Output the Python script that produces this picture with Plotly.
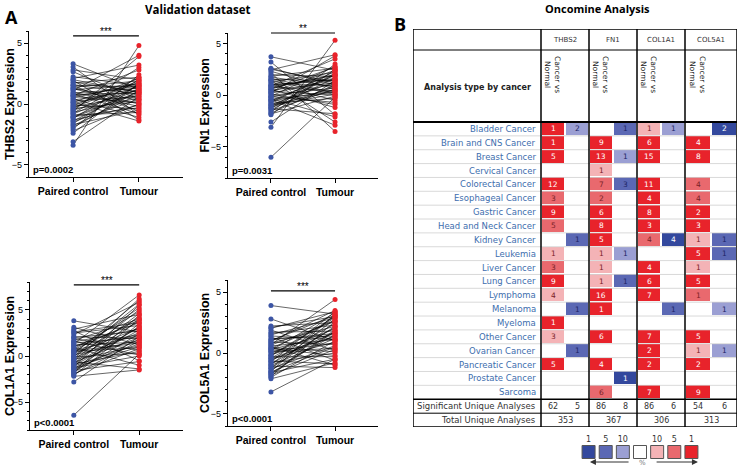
import plotly.graph_objects as go

W, H = 738, 466

# ---------------- Panel A : paired expression ----------------
groups = ["Paired control", "Tumour"]

thbs2_control = [3.3, 3.05, 2.8, 2.65, 2.25, 2.1, 1.95, 1.8, 1.72, 1.58, 1.5, 1.38, 1.3, 1.17, 1.1,
                 0.98, 0.9, 0.77, 0.7, 0.62, 0.5, 0.43, 0.33, 0.24, 0.12, 0.02, -0.08, -0.22, -0.3,
                 -0.38, -0.52, -0.6, -0.68, -0.83, -0.9, -1.02, -1.1, -1.18, -1.32, -1.4, -1.47, -1.6,
                 -1.7, -1.78, -1.92, -2.05, -2.2, -2.4, -3.1, -3.4, 0.15, 1.25, -0.45, 0.65, -1.05,
                 2.0, -0.15, 0.85, -0.75, 1.55]
thbs2_tumour = [1.2, -0.9, 2.0, 0.4, 1.5, 3.2, -1.3, 1.0, 2.2, 0.8, -0.6, 1.9, 0.3, 1.6, 4.0, -0.2,
                1.3, 0.9, 2.8, 0.1, 1.7, -1.1, 1.1, 0.6, 2.1, 1.4, -0.4, 0.7, 1.8, 0.2, 1.2, 3.9, 0.5,
                1.5, -0.7, 1.0, 0.9, 2.0, -0.1, 1.3, 0.4, 1.6, -0.5, 0.8, 1.1, 2.4, 0.0, 1.7, 0.6, 4.8,
                -1.4, 0.0, 3.0, 1.5, -0.3, 0.95, 1.9, -0.8, 2.2, 1.4]

fn1_control = [3.7, 3.2, 2.6, 2.45, 2.3, 2.15, 1.98, 1.82, 1.63, 1.52, 1.41, 1.28, 1.19, 1.07, 0.96,
               0.88, 0.79, 0.68, 0.57, 0.49, 0.38, 0.31, 0.18, 0.09, -0.03, -0.12, -0.21, -0.33, -0.41,
               -0.52, -0.58, -0.71, -0.79, -0.92, -1.01, -1.12, -1.19, -1.31, -1.42, -1.5, -1.63,
               -1.72, -1.81, -1.9, -2.6, -3.1, -6.0, 1.75, 0.55, -0.45, 0.95, -0.95, 2.5, 0.25, -1.25,
               1.45, -0.15, 0.75]
fn1_tumour = [2.4, -1.9, 1.0, 3.9, 0.6, -3.5, 1.8, 2.6, 0.2, 1.4, -2.6, 2.2, 0.9, -0.5, 1.6, 3.5, 0.4,
              2.0, -1.2, 1.2, 0.0, 2.4, 1.5, -0.9, 0.7, 2.8, 1.1, -2.1, 0.3, 1.9, 0.5, 2.3, -0.3, 1.3,
              0.1, 2.1, 0.8, -1.8, 1.7, 0.6, 3.0, 1.0, -0.1, 2.5, 1.4, 5.3, -0.2, 0.8, 2.7, -2.9, 1.5,
              0.4, 1.2, 3.8, 2.0, 0.05, -0.7, 1.9]

col1a1_control = [3.8, 3.1, 2.9, 2.72, 2.48, 2.31, 2.08, 1.91, 1.69, 1.52, 1.33, 1.18, 1.02, 0.91,
                  0.78, 0.63, 0.49, 0.41, 0.27, 0.12, -0.02, -0.11, -0.19, -0.32, -0.39, -0.51, -0.62,
                  -0.69, -0.81, -0.88, -1.03, -1.09, -1.21, -1.29, -1.41, -1.52, -1.58, -1.71, -1.79,
                  -1.91, -1.98, -2.12, -2.2, -2.8, -6.4, 0.7, 1.6, -0.45, 2.0, -1.25, 0.25, -0.85, 1.1,
                  -1.65, 0.55, 2.6, -0.05, 1.4]
col1a1_tumour = [2.6, 1.2, 4.5, -0.5, 3.3, 5.8, 1.9, 0.6, 4.0, 2.9, 6.6, 1.5, 3.6, -1.0, 4.8, 2.2, 0.9,
                 5.2, 3.0, 1.7, 4.2, 0.3, 2.5, 6.2, 1.1, 3.8, -1.4, 2.0, 4.6, 0.5, 2.8, 1.3, 5.5, 0.0,
                 3.2, 1.8, -0.6, 2.4, 4.0, 0.8, 1.6, 3.5, -1.5, 2.1, 0.2, 3.9, 0.1, 5.0, 2.7, 1.0, 6.0,
                 3.1, 2.3, 4.4, 1.4, 3.6, 5.6, 2.0]

col5a1_control = [3.9, 2.8, 2.22, 2.03, 1.88, 1.71, 1.49, 1.32, 1.18, 1.02, 0.89, 0.81, 0.69, 0.58,
                  0.51, 0.38, 0.29, 0.21, 0.08, -0.01, -0.12, -0.19, -0.31, -0.42, -0.49, -0.61, -0.72,
                  -0.79, -0.91, -1.02, -1.08, -1.22, -1.29, -1.41, -1.52, -1.61, -1.69, -1.82, -1.93,
                  -2.0, -2.12, -3.2, 1.6, 0.45, -0.25, 1.1, -0.65, 2.1, -1.25, 0.15, -0.95, 0.65, -1.55,
                  1.4, -0.45, 0.95, -1.75, 0.35]
col5a1_tumour = [3.2, 1.0, 2.5, 3.4, 0.2, 1.8, 2.9, -0.6, 1.4, 3.1, 0.7, 2.2, 4.4, 1.1, -1.0, 2.7, 1.6,
                 3.3, 0.4, 2.0, 1.3, 3.0, -0.3, 2.4, 0.9, 1.7, 3.4, 0.0, 2.1, 1.2, -1.2, 2.8, 0.6, 1.5,
                 3.2, -0.5, 1.9, 0.3, 2.6, 1.0, -0.8, -0.5, 2.3, 0.1, 2.9, 1.6, -0.9, 3.0, 2.2, 0.8, 3.1,
                 2.6, 0.5, 1.1, 1.4, 3.5, 1.8, -0.2]

p_labels = ["p=0.0002", "p=0.0031", "p<0.0001", "p<0.0001"]
star_labels = ["***", "**", "***", "***"]

# ---------------- Panel B : Oncomine table ----------------
cancers = ["Bladder Cancer", "Brain and CNS Cancer", "Breast Cancer", "Cervical Cancer",
           "Colorectal Cancer", "Esophageal Cancer", "Gastric Cancer", "Head and Neck Cancer",
           "Kidney Cancer", "Leukemia", "Liver Cancer", "Lung Cancer", "Lymphoma", "Melanoma",
           "Myeloma", "Other Cancer", "Ovarian Cancer", "Pancreatic Cancer", "Prostate Cancer",
           "Sarcoma"]
genes = ["THBS2", "FN1", "COL1A1", "COL5A1"]

# counts of analyses (0 = empty) and gene rank (top 1/5/10 %)
thbs2_up = [1, 1, 5, 0, 12, 3, 9, 5, 0, 1, 3, 9, 4, 0, 1, 3, 0, 5, 0, 0]
thbs2_up_rank = [1, 1, 1, 0, 1, 5, 1, 5, 0, 10, 5, 1, 10, 0, 1, 10, 0, 1, 0, 0]
thbs2_down = [2, 0, 0, 0, 0, 0, 0, 0, 1, 0, 0, 0, 0, 1, 0, 0, 1, 0, 0, 0]
thbs2_down_rank = [10, 0, 0, 0, 0, 0, 0, 0, 5, 0, 0, 0, 0, 5, 0, 0, 5, 0, 0, 0]
fn1_up = [0, 9, 13, 1, 7, 2, 6, 8, 5, 1, 1, 1, 16, 1, 0, 6, 0, 4, 0, 6]
fn1_up_rank = [0, 1, 1, 10, 5, 5, 1, 1, 1, 10, 10, 10, 1, 1, 0, 1, 0, 1, 0, 5]
fn1_down = [1, 0, 1, 0, 3, 0, 0, 0, 0, 1, 0, 1, 0, 0, 0, 0, 0, 0, 1, 0]
fn1_down_rank = [5, 0, 10, 0, 5, 0, 0, 0, 0, 10, 0, 5, 0, 0, 0, 0, 0, 0, 1, 0]
col1a1_up = [1, 6, 15, 0, 11, 4, 8, 3, 4, 0, 4, 6, 7, 0, 0, 7, 2, 2, 0, 7]
col1a1_up_rank = [10, 1, 1, 0, 1, 1, 1, 1, 5, 0, 1, 1, 1, 0, 0, 1, 1, 1, 0, 1]
col1a1_down = [1, 0, 0, 0, 0, 0, 0, 0, 4, 0, 0, 0, 0, 1, 0, 0, 0, 0, 0, 0]
col1a1_down_rank = [10, 0, 0, 0, 0, 0, 0, 0, 1, 0, 0, 0, 0, 5, 0, 0, 0, 0, 0, 0]
col5a1_up = [0, 4, 8, 0, 4, 4, 2, 3, 1, 5, 1, 5, 1, 0, 0, 5, 1, 2, 0, 9]
col5a1_up_rank = [0, 1, 1, 0, 5, 5, 1, 1, 10, 1, 10, 1, 5, 0, 0, 1, 10, 1, 0, 1]
col5a1_down = [2, 0, 0, 0, 0, 0, 0, 0, 1, 1, 0, 0, 0, 1, 0, 0, 1, 0, 0, 0]
col5a1_down_rank = [1, 0, 0, 0, 0, 0, 0, 0, 5, 5, 0, 0, 0, 10, 0, 0, 10, 0, 0, 0]

significant = [62, 5, 86, 8, 86, 6, 54, 6]
total_unique = [353, 367, 306, 313]
legend_ranks = ["1", "5", "10", "", "10", "5", "1"]

BLUE = "#3c55a5"
RED = "#e8232b"
LABEL_FONT = "Liberation Sans, Arial, sans-serif"
TABLE_FONT = "DejaVu Sans, Verdana, sans-serif"


def px(x):
    return x / W


def py(y):
    return 1 - y / H


fig = go.Figure()
annotations = []
shapes = []

# ---- paired dot plots ----
panels = [
    dict(gene="THBS2", control=thbs2_control, tumour=thbs2_tumour, dom_x=(29, 183), dom_y=(31, 177),
         yrange=[-6, 6], bar=0.966, title_x=10),
    dict(gene="FN1", control=fn1_control, tumour=fn1_tumour, dom_x=(228, 378), dom_y=(33, 178),
         yrange=[-8, 6], bar=1.0, title_x=205),
    dict(gene="COL1A1", control=col1a1_control, tumour=col1a1_tumour, dom_x=(30, 183), dom_y=(282, 430),
         yrange=[-8, 8], bar=0.98, title_x=10),
    dict(gene="COL5A1", control=col5a1_control, tumour=col5a1_tumour, dom_x=(228, 378), dom_y=(280, 426),
         yrange=[-6, 6], bar=0.925, title_x=205),
]

for i, pnl in enumerate(panels, start=1):
    sx = "" if i == 1 else str(i)
    xa, ya = "x" + sx, "y" + sx

    lx, ly = [], []
    for c, t in zip(pnl["control"], pnl["tumour"]):
        lx += [0, 1, None]
        ly += [c, t, None]
    fig.add_trace(go.Scatter(x=lx, y=ly, mode="lines", line=dict(color="black", width=0.6),
                             xaxis=xa, yaxis=ya, hoverinfo="skip"))
    fig.add_trace(go.Scatter(x=[0] * len(pnl["control"]), y=pnl["control"], mode="markers",
                             marker=dict(color=BLUE, size=5), xaxis=xa, yaxis=ya, cliponaxis=False))
    fig.add_trace(go.Scatter(x=[1] * len(pnl["tumour"]), y=pnl["tumour"], mode="markers",
                             marker=dict(color=RED, size=5), xaxis=xa, yaxis=ya, cliponaxis=False))

    fig.update_layout(**{
        "xaxis" + sx: dict(domain=[px(pnl["dom_x"][0]), px(pnl["dom_x"][1])], anchor=ya,
                           range=[-0.67, 1.67], tickvals=[0, 1], ticktext=groups,
                           showline=True, linecolor="black", linewidth=1.2, ticks="outside",
                           ticklen=4, tickcolor="black", showgrid=False, zeroline=False,
                           tickfont=dict(family=LABEL_FONT, size=10.5, color="black", weight="bold")),
        "yaxis" + sx: dict(domain=[py(pnl["dom_y"][1]), py(pnl["dom_y"][0])], anchor=xa,
                           range=pnl["yrange"], dtick=5, showline=True, linecolor="black",
                           linewidth=1.2, ticks="outside", ticklen=4, tickcolor="black",
                           showgrid=False, zeroline=False,
                           minor=dict(dtick=1, ticks="outside", ticklen=2, tickcolor="black"),
                           tickfont=dict(family=LABEL_FONT, size=9, color="black")),
    })

    annotations.append(dict(x=px(pnl["title_x"]), y=(py(pnl["dom_y"][0]) + py(pnl["dom_y"][1])) / 2,
                            xref="paper", yref="paper", xanchor="center", yanchor="middle",
                            text=f"{pnl['gene']} Expression", textangle=-90, showarrow=False,
                            font=dict(family=LABEL_FONT, size=12.5, color="black", weight="bold")))
    annotations.append(dict(x=0.015, y=0.0, xref=xa + " domain", yref=ya + " domain",
                            xanchor="left", yanchor="bottom", text=p_labels[i - 1], showarrow=False,
                            font=dict(family=LABEL_FONT, size=9.5, color="black", weight="bold")))
    shapes.append(dict(type="line", xref=xa, yref=ya + " domain", x0=0, x1=1,
                       y0=pnl["bar"], y1=pnl["bar"], line=dict(color="black", width=1.2)))
    annotations.append(dict(x=0.5, y=pnl["bar"], xref=xa, yref=ya + " domain", yanchor="bottom",
                            yshift=-3, text=star_labels[i - 1], showarrow=False,
                            font=dict(family=LABEL_FONT, size=10, color="black")))

# ---- Oncomine table (axis units = pixels inside the table) ----
col_edges = [128, 152, 176, 200, 224, 248, 272, 298, 324]
HEAD1, HEAD2, ROW_H = 21, 93, 13.86
row_edges = [HEAD2 + k * ROW_H for k in range(len(cancers) + 1)]
data_bottom = row_edges[-1]
sig_bottom = data_bottom + 14
table_bottom = 398

columns = [
    (thbs2_up, thbs2_up_rank, 1), (thbs2_down, thbs2_down_rank, -1),
    (fn1_up, fn1_up_rank, 1), (fn1_down, fn1_down_rank, -1),
    (col1a1_up, col1a1_up_rank, 1), (col1a1_down, col1a1_down_rank, -1),
    (col5a1_up, col5a1_up_rank, 1), (col5a1_down, col5a1_down_rank, -1),
]
rank_level = {1: 3, 5: 2, 10: 1}
shade_colors = ["#33489d", "#5b68b4", "#9b9fd3", "#ffffff", "#f4b3b6", "#e9696e", RED]
colorscale = []
for k, c in enumerate(shade_colors):
    colorscale += [[k / 7, c], [(k + 1) / 7, c]]

z = []
for r in range(len(cancers)):
    row = []
    for counts, ranks, sign in columns:
        row.append(sign * rank_level[ranks[r]] if counts[r] else None)
    z.append(row)

fig.add_trace(go.Heatmap(x=col_edges, y=row_edges, z=z, colorscale=colorscale, zmin=-3.5, zmax=3.5,
                         showscale=False, xgap=2, ygap=1, xaxis="x5", yaxis="y5", hoverinfo="skip"))

fig.update_layout(
    xaxis5=dict(domain=[px(413), px(737)], range=[0, 324], anchor="y5", visible=False),
    yaxis5=dict(domain=[py(427), py(29)], range=[table_bottom, 0], anchor="x5", visible=False),
)

col_centres = [(col_edges[k] + col_edges[k + 1]) / 2 for k in range(8)]
row_centres = [(row_edges[k] + row_edges[k + 1]) / 2 for k in range(len(cancers))]

for r, name in enumerate(cancers):
    annotations.append(dict(x=125, y=row_centres[r], xref="x5", yref="y5", xanchor="right",
                            text=name, showarrow=False,
                            font=dict(family=TABLE_FONT, size=8.5, color="#3d6eae")))
    for k, (counts, ranks, sign) in enumerate(columns):
        if not counts[r]:
            continue
        if ranks[r] == 1:
            tc = "white"
        elif sign > 0:
            tc = "#7a2226"
        else:
            tc = "#1c2466"
        annotations.append(dict(x=col_centres[k], y=row_centres[r], xref="x5", yref="y5",
                                text=str(counts[r]), showarrow=False,
                                font=dict(family=TABLE_FONT, size=7.5, color=tc)))

for g, gene in enumerate(genes):
    gx0, gx1 = col_edges[2 * g], col_edges[2 * g + 2]
    annotations.append(dict(x=(gx0 + gx1) / 2, y=HEAD1 / 2, xref="x5", yref="y5", text=gene,
                            showarrow=False, font=dict(family=TABLE_FONT, size=7, color="#333")))
    annotations.append(dict(x=col_centres[2 * g], y=45, xref="x5", yref="y5",
                            text="Cancer vs<br>Normal", textangle=90, showarrow=False,
                            font=dict(family=TABLE_FONT, size=7.5, color="#222")))
    annotations.append(dict(x=(gx0 + gx1) / 2, y=(sig_bottom + table_bottom) / 2, xref="x5", yref="y5",
                            text=str(total_unique[g]), showarrow=False,
                            font=dict(family=TABLE_FONT, size=8, color="#333")))

for k, v in enumerate(significant):
    annotations.append(dict(x=col_centres[k], y=(data_bottom + sig_bottom) / 2, xref="x5", yref="y5",
                            text=str(v), showarrow=False,
                            font=dict(family=TABLE_FONT, size=8, color="#333")))

annotations.append(dict(x=64, y=58, xref="x5", yref="y5", text="Analysis type by cancer",
                        showarrow=False, font=dict(family=TABLE_FONT, size=8, color="#222",
                                                   weight="bold")))
annotations.append(dict(x=125, y=(data_bottom + sig_bottom) / 2, xref="x5", yref="y5", xanchor="right",
                        text="Significant Unique Analyses", showarrow=False,
                        font=dict(family=TABLE_FONT, size=8.5, color="#333")))
annotations.append(dict(x=125, y=(sig_bottom + table_bottom) / 2, xref="x5", yref="y5", xanchor="right",
                        text="Total Unique Analyses", showarrow=False,
                        font=dict(family=TABLE_FONT, size=8.5, color="#333")))

# table rules
for y in row_edges[1:-1]:
    shapes.append(dict(type="line", xref="x5", yref="y5", x0=0, x1=324, y0=y, y1=y,
                       line=dict(color="#cfcfcf", width=0.8)))
for y, w in [(HEAD1, 1), (HEAD2, 2), (data_bottom, 1.5), (sig_bottom, 1)]:
    shapes.append(dict(type="line", xref="x5", yref="y5", x0=0, x1=324, y0=y, y1=y,
                       line=dict(color="black", width=w)))
for x in [128, 176, 224, 272]:
    shapes.append(dict(type="line", xref="x5", yref="y5", x0=x, x1=x, y0=0, y1=table_bottom,
                       line=dict(color="black", width=1.5)))
shapes.append(dict(type="rect", xref="x5", yref="y5", x0=0, x1=324, y0=0, y1=table_bottom,
                   line=dict(color="black", width=1.5)))

# ---- colour key ----
fig.add_trace(go.Scatter(x=list(range(7)), y=[14] * 7, mode="markers", xaxis="x6", yaxis="y6",
                         marker=dict(symbol="square", size=13, color=shade_colors,
                                     line=dict(color="#555", width=1)), hoverinfo="skip"))
fig.add_trace(go.Scatter(x=list(range(7)), y=[26] * 7, mode="text", text=legend_ranks,
                         xaxis="x6", yaxis="y6", hoverinfo="skip",
                         textfont=dict(family=TABLE_FONT, size=8, color="#333")))
fig.update_layout(
    xaxis6=dict(domain=[px(580), px(700)], range=[-0.5, 6.5], anchor="y6", visible=False),
    yaxis6=dict(domain=[0, py(434)], range=[0, 32], anchor="x6", visible=False),
)
annotations.append(dict(x=0.08, y=4, ax=2.42, ay=4, xref="x6", yref="y6", axref="x6", ayref="y6",
                        text="", showarrow=True, arrowhead=2, arrowsize=1, arrowwidth=1.2,
                        arrowcolor="#333"))
annotations.append(dict(x=6.38, y=4, ax=3.88, ay=4, xref="x6", yref="y6", axref="x6", ayref="y6",
                        text="", showarrow=True, arrowhead=2, arrowsize=1, arrowwidth=1.2,
                        arrowcolor="#333"))
annotations.append(dict(x=3.15, y=3, xref="x6", yref="y6", text="%", showarrow=False,
                        font=dict(family=TABLE_FONT, size=7, color="#777")))

# ---- panel titles ----
annotations += [
    dict(x=px(3), y=py(3), xref="paper", yref="paper", xanchor="left", yanchor="top", text="A",
         showarrow=False, font=dict(family="Open Sans, sans-serif", size=18, color="black", weight="bold")),
    dict(x=px(198), y=py(9), xref="paper", yref="paper", xanchor="center", yanchor="middle",
         text="Validation dataset", showarrow=False,
         font=dict(family="Open Sans, sans-serif", size=11.5, color="black", weight="bold")),
    dict(x=px(392), y=py(10), xref="paper", yref="paper", xanchor="left", yanchor="top", text="B",
         showarrow=False, font=dict(family="Open Sans, sans-serif", size=18, color="black", weight="bold")),
    dict(x=px(597), y=py(8), xref="paper", yref="paper", xanchor="center", yanchor="middle",
         text="Oncomine Analysis", showarrow=False,
         font=dict(family="Open Sans, sans-serif", size=11, color="black", weight="bold")),
]

fig.update_layout(
    width=W, height=H,
    margin=dict(l=0, r=0, t=0, b=0, autoexpand=False),
    paper_bgcolor="white", plot_bgcolor="white",
    showlegend=False,
    annotations=annotations,
    shapes=shapes,
)

# the page body has a default 8px margin; drop it so the figure sits at the window origin
fig.write_html("out.html", config={"displayModeBar": False},
               post_script="document.body.style.margin='0px';")
